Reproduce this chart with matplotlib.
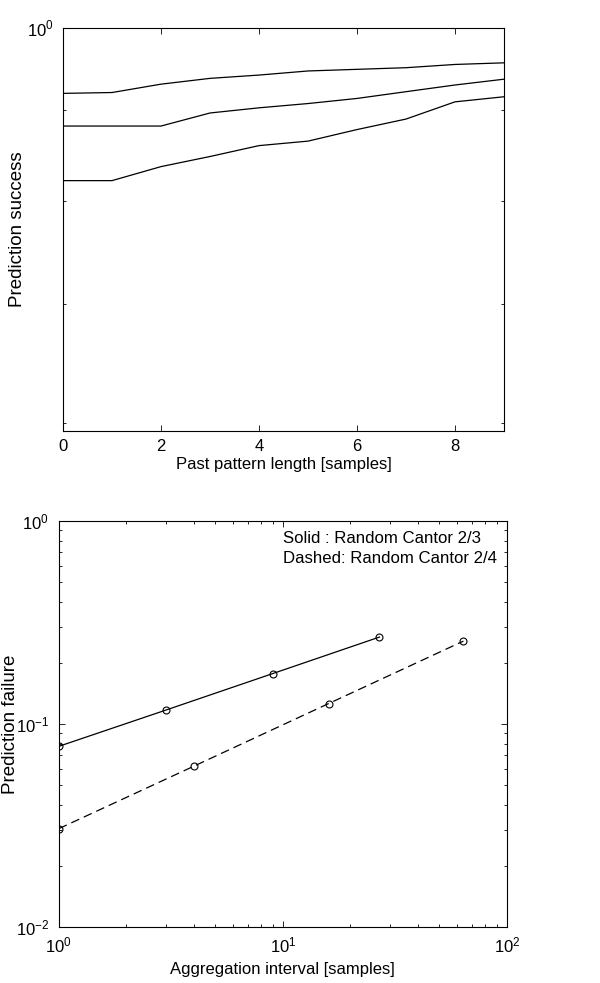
import numpy as np
import matplotlib.pyplot as plt
from matplotlib.ticker import LogLocator, NullFormatter, FixedLocator

plt.rcParams["font.family"] = ["Liberation Sans", "DejaVu Sans"]
plt.rcParams["mathtext.fontset"] = "custom"
plt.rcParams["mathtext.rm"] = "Liberation Sans"

# top panel: prediction success vs past pattern length
past_len = [0, 1, 2, 3, 4, 5, 6, 7, 8, 9]
success_a = [0.919, 0.920, 0.930, 0.937, 0.941, 0.946, 0.948, 0.950, 0.954, 0.956]
success_b = [0.881, 0.881, 0.881, 0.896, 0.902, 0.907, 0.913, 0.921, 0.929, 0.936]
success_c = [0.821, 0.821, 0.836, 0.847, 0.859, 0.864, 0.877, 0.889, 0.909, 0.915]

# bottom panel: prediction failure vs aggregation interval
agg_23 = [1, 3, 9, 27]
fail_23 = [0.0776, 0.117, 0.177, 0.268]
agg_24 = [1, 4, 16, 64]
fail_24 = [0.0305, 0.0619, 0.126, 0.256]

FS = 12
FS_Y = 13.5


def matlab_ticks(ax):
    ax.tick_params(which="both", direction="in", top=True, right=True,
                   labelsize=FS, width=0.6)
    ax.tick_params(which="major", length=4)
    ax.tick_params(which="minor", length=2.5)
    ax.tick_params(axis="x", pad=6)
    ax.tick_params(axis="y", pad=7)
    for s in ax.spines.values():
        s.set_linewidth(0.8)


fig = plt.figure(figsize=(6, 9.83), dpi=100)

ax1 = fig.add_axes([0.105, 0.5615, 0.735, 0.41])
for ys in (success_a, success_b, success_c):
    ax1.plot(past_len, ys, "-", color="black", lw=0.9)
ax1.set_yscale("log")
ax1.set_xlim(0, 9)
ax1.set_ylim(0.594, 1.0)
ax1.set_xticks([0, 2, 4, 6, 8])
ax1.yaxis.set_major_locator(FixedLocator([1.0]))
ax1.yaxis.set_major_formatter(plt.FixedFormatter([r"$10^{0}$"]))
ax1.yaxis.set_minor_locator(FixedLocator([0.6, 0.7, 0.8, 0.9]))
ax1.yaxis.set_minor_formatter(NullFormatter())
ax1.set_xlabel("Past pattern length [samples]", fontsize=FS, labelpad=2)
ax1.set_ylabel("Prediction success", fontsize=FS_Y)
ax1.yaxis.set_label_coords(-0.084, 0.5)
matlab_ticks(ax1)

ax2 = fig.add_axes([0.098, 0.057, 0.7467, 0.413])
ax2.loglog(agg_23, fail_23, "-o", color="black", lw=0.9, ms=5,
           mfc="none", mew=0.8)
ax2.loglog(agg_24, fail_24, "--o", color="black", lw=0.9, ms=5,
           mfc="none", mew=0.8, dashes=(7, 4))
ax2.set_xlim(1, 100)
ax2.set_ylim(0.01, 1)
ax2.xaxis.set_major_locator(LogLocator(base=10))
ax2.yaxis.set_major_locator(LogLocator(base=10))
ax2.xaxis.set_minor_locator(LogLocator(base=10, subs=np.arange(2, 10)))
ax2.yaxis.set_minor_locator(LogLocator(base=10, subs=np.arange(2, 10)))
ax2.xaxis.set_minor_formatter(NullFormatter())
ax2.yaxis.set_minor_formatter(NullFormatter())
ax2.set_xlabel("Aggregation interval [samples]", fontsize=FS, labelpad=5)
ax2.set_ylabel("Prediction failure", fontsize=FS_Y)
ax2.yaxis.set_label_coords(-0.089, 0.5)
ax2.text(0.5, 0.975, "Solid : Random Cantor 2/3\nDashed: Random Cantor 2/4",
         transform=ax2.transAxes, ha="left", va="top", fontsize=12.1,
         linespacing=1.4)
matlab_ticks(ax2)

fig.savefig("out.png", dpi=100)
